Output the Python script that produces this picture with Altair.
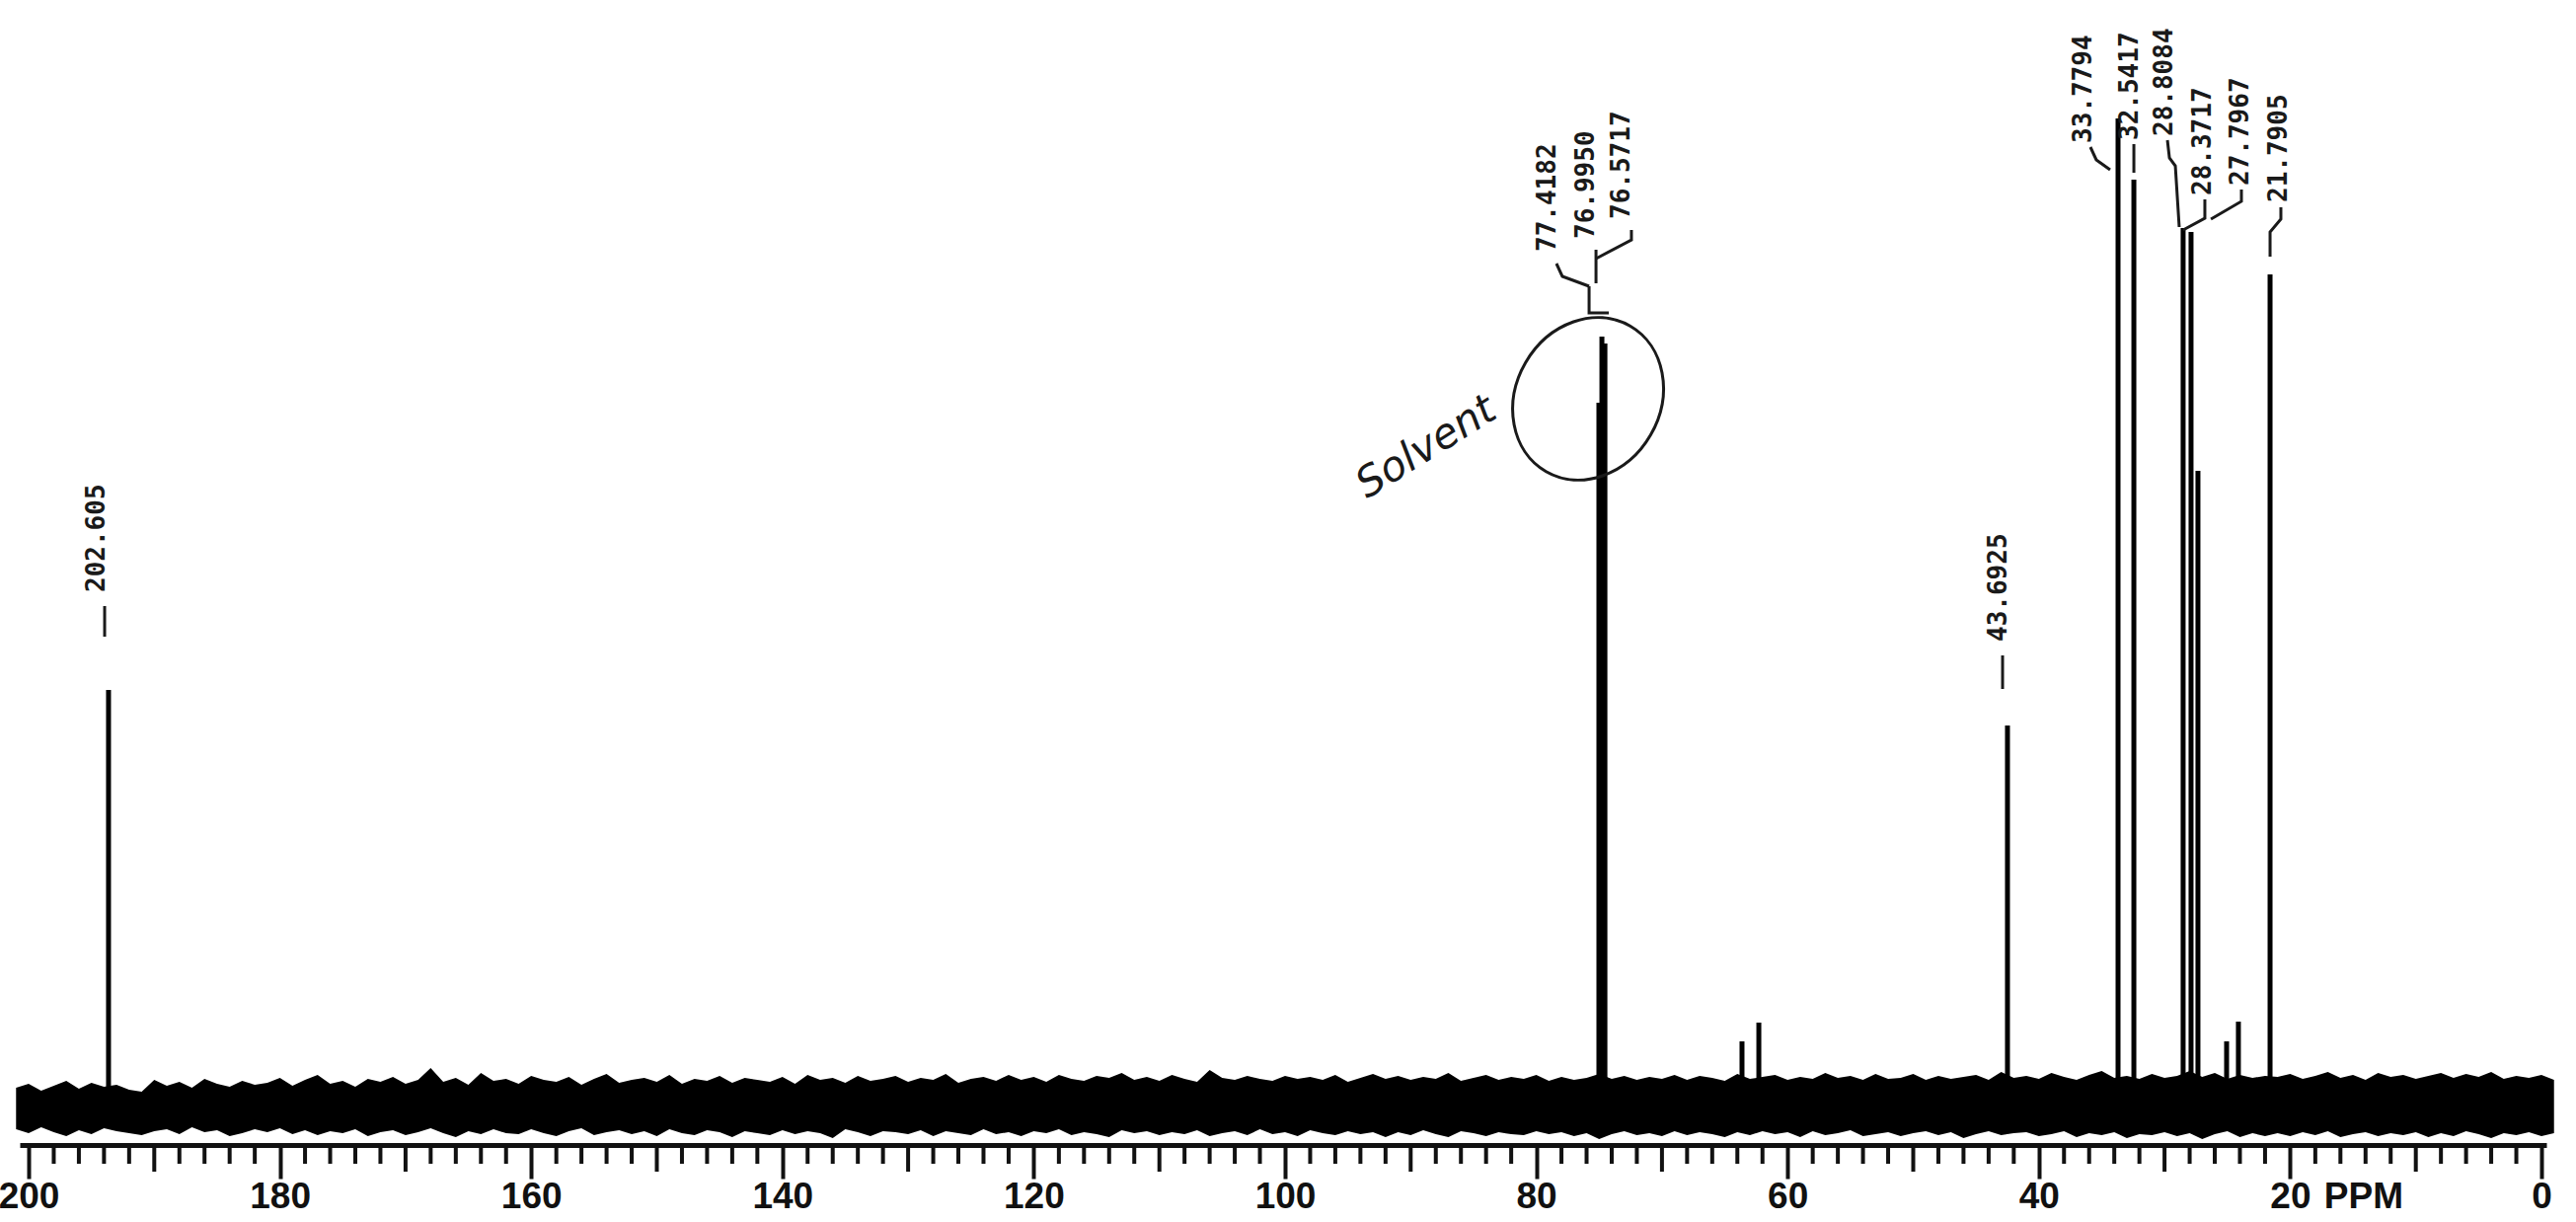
import altair as alt
import pandas as pd

# ---------------- data (axis units: ppm on x, intensity on y) ----------------
peak_ppm = [193.64, 75.02, 74.78, 74.54, 63.63, 62.29, 42.50, 33.70, 32.44,
            28.52, 27.89, 27.34, 25.06, 24.12, 21.60]
peak_int = [421, 712, 779, 772, 65, 84, 385, 1000, 938,
            889, 885, 643, 65, 85, 842]

label_text = ["202.605", "77.4182", "76.9950", "76.5717", "43.6925", "33.7794",
              "32.5417", "28.8084", "28.3717", "27.7967", "21.7905"]
label_ppm = [194.58, 79.11, 76.04, 73.21, 43.20, 36.45, 32.76, 30.00, 26.94, 23.96, 20.90]
label_int = [520, 865, 878, 898, 470, 975, 978, 982, 922, 932, 915]

conn_group = ["a", "a", "b", "b", "c", "c", "c", "d", "d", "e", "e", "e", "e",
              "f", "f", "f", "g", "g", "g", "h", "h", "h", "h",
              "i", "i", "i", "j", "j", "k", "k", "k", "l", "l", "l"]
conn_ppm = [193.95, 193.95, 42.89, 42.89, 35.90, 35.43, 34.33, 32.44, 32.44,
            29.77, 29.61, 29.14, 28.83,
            26.79, 26.79, 28.52, 23.88, 23.88, 26.31,
            20.74, 20.74, 21.60, 21.60,
            78.40, 77.93, 75.80, 75.25, 75.25, 72.43, 72.43, 75.25,
            75.80, 75.80, 74.23]
conn_int = [506, 475, 456, 422, 971, 958, 948, 974, 945,
            978, 960, 952, 890,
            918, 899, 887, 928, 916, 898,
            910, 898, 885, 860,
            853, 840, 830, 867, 833, 887, 877, 858,
            830, 803, 803]

# baseline noise envelope (upper / lower excursion) per ppm
noise_ppm = list(range(201, -2, -1))
noise_top = [18, 22, 15, 20, 25, 17, 23, 19, 21, 16,
             14, 26, 20, 24, 18, 27, 22, 19, 25, 21,
             23, 28, 20, 26, 31, 22, 25, 19, 27, 24,
             29, 22, 26, 38, 24, 28, 21, 33, 25, 27,
             22, 30, 26, 24, 29, 21, 27, 32, 23, 26,
             28, 24, 31, 22, 27, 25, 30, 23, 28, 26,
             24, 29, 22, 31, 26, 28, 23, 30, 25, 27,
             30, 24, 28, 26, 32, 23, 27, 29, 25, 31,
             26, 29, 24, 31, 27, 25, 30, 28, 33, 26,
             29, 25, 31, 27, 24, 36, 28, 26, 30, 27,
             25, 30, 27, 29, 26, 31, 24, 28, 32, 27,
             30, 26, 29, 27, 33, 25, 28, 31, 26, 29,
             27, 31, 25, 29, 26, 28, 32, 27, 30, 26,
             29, 27, 31, 26, 30, 28, 25, 32, 27, 29,
             31, 26, 29, 27, 33, 28, 30, 26, 32, 27,
             28, 32, 26, 30, 27, 29, 31, 26, 34, 28,
             30, 27, 33, 29, 26, 31, 35, 28, 30, 27,
             32, 28, 30, 35, 29, 33, 27, 31, 28, 30,
             29, 32, 27, 30, 34, 28, 31, 26, 33, 29,
             31, 27, 30, 33, 28, 32, 29, 34, 27, 30,
             28, 31, 26]
noise_depth = [24, 28, 22, 27, 31, 25, 29, 23, 26, 28,
               30, 26, 24, 29, 22, 27, 25, 31, 28, 24,
               27, 23, 29, 25, 30, 26, 28, 24, 31, 27,
               25, 30, 27, 23, 28, 32, 26, 29, 24, 28,
               29, 24, 28, 31, 26, 23, 30, 27, 25, 29,
               26, 31, 24, 28, 30, 25, 27, 32, 26, 28,
               30, 25, 29, 26, 28, 33, 24, 27, 31, 26,
               27, 29, 25, 31, 26, 28, 30, 24, 29, 27,
               31, 26, 28, 24, 30, 27, 29, 32, 25, 28,
               26, 30, 27, 29, 25, 31, 28, 26, 30, 24,
               29, 27, 31, 25, 28, 30, 26, 29, 27, 32,
               27, 30, 25, 29, 32, 26, 28, 31, 27, 29,
               30, 26, 29, 27, 31, 28, 34, 29, 26, 30,
               28, 31, 26, 30, 27, 29, 32, 27, 30, 26,
               29, 27, 32, 26, 30, 28, 25, 31, 29, 27,
               31, 28, 26, 30, 27, 33, 29, 26, 30, 28,
               27, 31, 29, 26, 32, 28, 30, 27, 33, 29,
               30, 27, 31, 28, 34, 29, 26, 32, 28, 31,
               28, 31, 27, 30, 26, 32, 29, 27, 31, 28,
               30, 27, 32, 28, 31, 26, 29, 33, 28, 30,
               27, 31, 28]

major_ticks = list(range(0, 201, 20))
mid_ticks = list(range(10, 200, 20))
minor_ticks = [v for v in range(0, 201, 2) if v % 10]

annot_ppm = [75.88]
annot_int = [716]
solvent_ppm = [88.77]
solvent_int = [667]
ppm_word_ppm = [17.3]

AXIS_FONT = "Liberation Sans, Arial, sans-serif"

# ---------------- frames ----------------
peaks = pd.DataFrame({"ppm": peak_ppm, "int": peak_int, "base": [-10] * len(peak_ppm)})
labels = pd.DataFrame({"ppm": label_ppm, "int": label_int, "text": label_text})
conns = pd.DataFrame({"g": conn_group, "ppm": conn_ppm, "int": conn_int,
                      "o": list(range(len(conn_group)))})
noise = pd.DataFrame({"ppm": noise_ppm, "top": noise_top,
                      "bot": [-d for d in noise_depth]})

xs = alt.Scale(domain=[-0.393, 200.707], reverse=True, nice=False, zero=False)
ys = alt.Scale(domain=[-40, 1120], nice=False, zero=False)

x_axis = alt.Axis(values=major_ticks, format="d", title=None, grid=False,
                  orient="bottom",
                  labelFont=AXIS_FONT, labelFontWeight="bold",
                  labelFontSize=37, labelColor="#111", labelPadding=0,
                  labelOverlap=False, labelFlush=True, labelBound=False,
                  tickSize=34, tickWidth=4, tickColor="#111",
                  domainWidth=5, domainColor="#111")

X = lambda f="ppm": alt.X(f"{f}:Q", scale=xs, axis=x_axis)
Y = lambda f="int": alt.Y(f"{f}:Q", scale=ys, axis=None)

noise_layer = alt.Chart(noise).mark_area(color="black", interpolate="linear").encode(
    x=X(), y=Y("top"), y2="bot:Q")

peak_layer = alt.Chart(peaks).mark_rule(color="black", strokeWidth=5).encode(
    x=X(), y=Y(), y2="base:Q")

conn_layer = alt.Chart(conns).mark_line(color="#1a1a1a", strokeWidth=3).encode(
    x=X(), y=Y(), detail="g:N", order="o:Q")

label_layer = alt.Chart(labels).mark_text(
    angle=270, align="left", baseline="middle", font="DejaVu Sans Mono",
    fontWeight="bold", fontSize=26, color="#1a1a1a").encode(
    x=X(), y=Y(), text="text:N")

ellipse_path = "M -1 0 A 1 0.86 0 1 1 1 0 A 1 0.86 0 1 1 -1 0 Z"
ellipse_layer = alt.Chart(pd.DataFrame({"ppm": annot_ppm, "int": annot_int})).mark_point(
    shape=ellipse_path, size=29000, filled=False, strokeWidth=3, color="#1a1a1a",
    angle=300, opacity=1).encode(x=X(), y=Y())

solvent_layer = alt.Chart(pd.DataFrame({"ppm": solvent_ppm, "int": solvent_int,
                                        "t": ["Solvent"]})).mark_text(
    angle=328, font="DejaVu Sans", fontStyle="italic", fontSize=42,
    color="#1a1a1a").encode(x=X(), y=Y(), text="t:N")

minor_layer = alt.Chart(pd.DataFrame({"ppm": minor_ticks})).mark_rule(
    color="#111", strokeWidth=4).encode(x=X(), y=alt.value(1160), y2=alt.value(1179))
mid_layer = alt.Chart(pd.DataFrame({"ppm": mid_ticks})).mark_rule(
    color="#111", strokeWidth=4).encode(x=X(), y=alt.value(1160), y2=alt.value(1187))

ppm_word = alt.Chart(pd.DataFrame({"ppm": ppm_word_ppm, "t": ["PPM"]})).mark_text(
    font=AXIS_FONT, fontWeight="bold", fontSize=37, color="#111",
    align="left", baseline="top").encode(x=X(), y=alt.value(1195), text="t:N")

chart = alt.layer(noise_layer, peak_layer, conn_layer, label_layer, ellipse_layer,
                  solvent_layer, minor_layer, mid_layer, ppm_word).properties(
    width=2560, height=1160, autosize="none",
    padding={"left": 20, "top": 0, "right": 30, "bottom": 78},
    background="white").configure_view(stroke=None)

chart.save("out.html", embed_options={"renderer": "svg", "actions": False})
